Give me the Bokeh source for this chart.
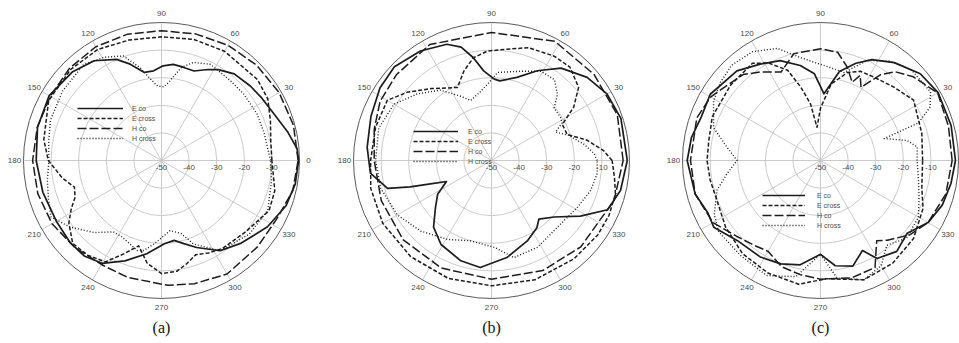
import numpy as np
from bokeh.plotting import figure
from bokeh.layouts import row
from bokeh.models import Range1d, Legend, LegendItem
from bokeh.embed import file_html
from bokeh.resources import INLINE
from bokeh.core.properties import value

# ---------------------------------------------------------------------------
# Radiation patterns (angle in degrees, normalised gain in dB)
# ---------------------------------------------------------------------------

# (a)
a_eco_deg = [0, 5, 13, 23, 32, 40, 50, 58, 63, 70, 77, 83, 89, 95, 101, 108, 114, 124, 135, 150,
             165, 180, 195, 210, 222, 231, 240, 250, 261, 272, 279, 285, 292, 303, 314, 328, 340, 350, 360]
a_eco_db = [-0.3, -0.7, -3.2, -6, -7.2, -8, -9, -11.2, -13, -15.5, -15.3, -14.9, -15.7, -17.4, -17.5, -13.3, -9.9, -6.4, -4.5, -3,
            -3.5, -4.6, -5.5, -6, -5.5, -5.5, -7, -11.3, -15.8, -19.8, -20.7, -18.8, -16, -11, -8.4, -4.7, -2, -0.8, -0.3]

a_ecr_deg = [0, 10, 20, 30, 40, 60, 75, 90, 105, 120, 135, 152, 170, 180, 190, 197, 203, 208, 214, 223, 232, 241,
             248, 255, 262, 270, 278, 284, 290, 297, 305, 320, 335, 345, 355, 360]
a_ecr_db = [-10, -9.8, -8, -5.5, -4.5, -4.3, -4.6, -5.2, -4.8, -3.6, -3.4, -3.7, -6.7, -9, -13.5, -17, -16, -13, -9.5, -6, -6.5, -8,
            -13.5, -18, -12.5, -9, -9.5, -11.6, -13.7, -12.4, -11.2, -10, -7, -7.5, -9.5, -10]

a_hco_deg = [0, 15, 30, 45, 60, 75, 90, 105, 120, 135, 150, 165, 180, 195, 210, 225, 241, 254, 273, 285, 300, 318, 333, 347, 360]
a_hco_db = [-0.5, -0.5, -0.8, -1.2, -1.8, -2.5, -3.0, -2.6, -2.4, -2.8, -3.5, -3.4, -3.3, -3.6, -4.2, -5.5, -6.5, -5.9, -4.7, -3.8,
            -2.5, -3.2, -3.2, -1.2, -0.5]

a_hcr_deg = [0, 15, 26, 39, 49, 63, 72, 78, 84, 88, 93, 98, 103, 110, 119, 129, 145, 160, 170, 180, 190, 199, 207, 216,
             227, 236, 243, 255, 259, 265, 277, 285, 291, 303, 320, 335, 350, 360]
a_hcr_db = [-10.5, -11.5, -11.5, -11.7, -11.8, -10.9, -12.6, -15.6, -21, -23.3, -23, -20, -15.5, -9.7, -7.2, -5.2, -6.2, -7.2, -8.5,
            -9.2, -8, -6.7, -5, -9, -14.3, -18.8, -18.8, -16.2, -16.8, -19.7, -24.4, -22.6, -17.6, -11, -8.5, -7.5, -9.5, -10.5]

# (b)
b_eco_deg = [0, 18, 30, 41, 53, 63, 73, 84, 88, 95, 100, 105, 111, 123, 136, 147, 160, 174, 186, 195, 198, 201, 205,
             212, 220, 229, 239, 253, 264, 279, 294, 304, 309, 318, 328, 337, 347, 360]
b_eco_db = [-0.8, -0.7, -1.7, -4.1, -8.1, -13.5, -18.5, -21, -20.5, -17.4, -12.2, -7.5, -4.9, -2.7, -1.1, -1.8, -3.5, -4.7, -5.9,
            -11, -19, -26.3, -32, -27, -23.5, -18, -14.5, -12, -11, -14.4, -18.1, -20.6, -22.7, -19.4, -12, -4.3, -2, -0.8]

b_ecr_deg = [0, 5, 12, 19, 27, 33, 40, 50, 59, 72, 82, 92, 100, 107, 115, 130, 141, 150, 164, 180, 193, 210, 230, 250,
             270, 290, 310, 325, 335, 345, 352, 360]
b_ecr_db = [-6.3, -9.2, -14.6, -21, -21.2, -14.5, -8.8, -5.8, -5.9, -7, -9.3, -10.3, -12.2, -16, -20.8, -16, -10.7, -6.4, -6.3,
            -6.2, -5.1, -4.5, -4.5, -4.5, -4.6, -4, -3.5, -3, -3, -3.5, -5, -6.3]

b_hco_deg = [0, 20, 40, 62, 90, 118, 138, 152, 165, 180, 200, 222, 245, 270, 295, 316, 342, 360]
b_hco_db = [-2.3, -1.5, -1.5, -1.1, -3.6, -2.4, -3.6, -4.3, -6, -7.5, -7.5, -7, -7, -7, -6, -5, -3.3, -2.3]

b_hcr_deg = [0, 4, 10, 18, 24, 28, 32, 40, 45, 52, 61, 72, 86, 93, 100, 109, 116, 126, 138, 150, 164, 180, 194, 210,
             225, 241, 255, 272, 283, 298, 317, 331, 343, 353, 360]
b_hcr_db = [-11.7, -12.8, -16, -20.5, -24.6, -21, -20.5, -20.4, -16.2, -12.9, -13, -16, -18, -22.3, -25, -27, -24, -18.5, -13.9,
            -9.2, -7.5, -8, -8.6, -10.6, -13.8, -17.3, -19.9, -18.5, -13.9, -14.4, -16, -14.6, -12.5, -11.4, -11.7]

# (c)
c_eco_deg = [0, 15, 30, 41, 53, 63, 70, 78, 87, 94, 102, 112, 122, 133, 149, 160, 170, 180, 195, 205, 212, 224, 238,
             249, 259, 270, 278, 287, 295, 300, 310, 320, 330, 340, 350, 360]
c_eco_db = [-1.1, -1, -0.8, -2.1, -5.6, -9, -12.5, -17, -25.8, -18.5, -14.8, -11, -8.8, -5.6, -3.4, -4, -2.5, -1.7, -3, -5, -4.4,
            -8.2, -8.8, -9.9, -11.5, -16, -11.5, -10, -14, -9, -7, -9, -5, -3, -2, -1.1]

c_ecr_deg = [0, 15, 33, 45, 57, 66, 73, 82, 90, 96, 100, 105, 110, 118, 125, 140, 158, 170, 180, 190, 201, 215, 230,
             245, 260, 273, 290, 305, 320, 335, 345, 360]
c_ecr_db = [-13, -12, -9.8, -12.4, -14.1, -14.6, -16.7, -22, -31, -37.9, -29.2, -22.5, -15.2, -10, -7, -7.5, -7.7, -8.9, -8.9,
            -9.4, -9.8, -8, -6, -5, -4.5, -7.1, -4, -4.5, -6, -9, -12, -13]

c_hco_deg = [0, 15, 30, 42, 50, 55, 61, 65, 68, 74, 81, 90, 104, 114, 124, 132, 141, 150, 161, 180, 195, 210, 222,
             232, 240, 250, 260, 270, 285, 297, 305, 310, 320, 330, 345, 360]
c_hco_db = [-2.3, -2, -1, -4.7, -8, -12, -19.7, -16, -19.4, -14.8, -10.3, -9.5, -10.1, -14.9, -11.3, -8.1, -6.6, -4, -2.6, -2.9,
            -3, -5, -9, -11, -12, -9, -8, -7, -6, -6.5, -14.5, -12.3, -8, -5, -3, -2.3]

c_hcr_deg = [0, 8, 13, 19, 21, 26, 32, 45, 55, 65, 75, 85, 95, 101, 111, 122, 133, 142, 151, 163, 172, 180, 188, 196,
             207, 215, 230, 245, 258, 270, 278, 290, 300, 308, 318, 330, 340, 350, 360]
c_hcr_db = [-15, -14.6, -17.8, -25.6, -12, -5.8, -3, -3.5, -6, -10, -17, -16, -14, -12, -6.5, -3.5, -2.8, -4, -5.7, -9.5,
            -15.8, -19.8, -15.8, -11, -6.8, -5, -5, -4, -7, -16, -7, -4, -6, -11, -8, -9, -12, -14, -15]

series_names = ["E co", "E cross", "H co", "H cross"]
panel_tags = ["(a)", "(b)", "(c)"]
angle_ticks = list(range(0, 360, 30))
ring_levels = [-50, -40, -30, -20, -10]

# ---------------------------------------------------------------------------
# Drawing
# ---------------------------------------------------------------------------
H = 343
CY = 160.0          # pixel row of the polar origin
R_PX = 138.0        # pixel radius of the 0 dB circle
DB_MIN = -50.0      # value at the origin
PX = R_PX / (0 - DB_MIN)   # pixels per dB of radius
OUTER = 0 - DB_MIN

LINE_STYLES = [
    dict(line_dash="solid", line_width=1.7),
    dict(line_dash="4 2", line_width=1.5),
    dict(line_dash="9 3", line_width=1.5),
    dict(line_dash="1 2", line_width=1.4),
]
INK = "#1c1c1c"
GRID = "#c4c4c4"
LABEL = "#4a4a4a"


def to_xy(deg, db):
    r = np.clip(np.asarray(db, dtype=float) - DB_MIN, 0, None)
    t = np.radians(np.asarray(deg, dtype=float))
    return r * np.cos(t), r * np.sin(t)


def panel(cx, width, curves, legend_px, tag):
    p = figure(width=width, height=H,
               x_range=Range1d(-cx / PX, (width - cx) / PX),
               y_range=Range1d(-(H - CY) / PX, CY / PX),
               output_backend="svg", toolbar_location=None,
               x_axis_type=None, y_axis_type=None, min_border=0)
    p.outline_line_color = None
    p.background_fill_color = "white"
    p.border_fill_color = "white"

    # grid rings and spokes
    rings = [lv - DB_MIN for lv in ring_levels[1:]]
    p.circle(x=[0] * len(rings), y=[0] * len(rings), radius=rings,
             fill_color=None, line_color=GRID, line_width=0.9)
    t = np.radians(angle_ticks)
    p.segment(x0=np.zeros(len(t)), y0=np.zeros(len(t)),
              x1=OUTER * np.cos(t), y1=OUTER * np.sin(t),
              line_color=GRID, line_width=0.9)
    p.circle(x=[0], y=[0], radius=[OUTER], fill_color=None,
             line_color="#5a5a5a", line_width=1.0)

    # angle labels (only those that fall inside this panel's width)
    lr = 147.0 / PX
    lab_x, lab_y, lab_t = [], [], []
    for a in angle_ticks:
        x = lr * np.cos(np.radians(a))
        px_x = cx + x * PX
        half = 2.6 * len(str(a))
        if px_x - half >= 0 and px_x + half <= width:
            lab_x.append(x)
            lab_y.append(lr * np.sin(np.radians(a)))
            lab_t.append(str(a))
    p.text(x=lab_x, y=lab_y, text=lab_t,
           text_font=value("Liberation Sans"), text_font_size="8px",
           text_color=LABEL, text_align="center", text_baseline="middle")
    # radial labels
    p.text(x=[lv - DB_MIN for lv in ring_levels], y=[-7.0 / PX] * len(ring_levels),
           text=[str(lv) for lv in ring_levels],
           text_font=value("Liberation Sans"), text_font_size="8px",
           text_color=LABEL, text_align="center", text_baseline="middle")

    renderers = []
    for (deg, db), style in zip(curves, LINE_STYLES):
        x, y = to_xy(deg, db)
        renderers.append(p.line(x, y, line_color=INK, line_join="round", **style))

    lx, ltop, gw, standoff = legend_px
    legend = Legend(items=[LegendItem(label=n, renderers=[r]) for n, r in zip(series_names, renderers)],
                    location=(lx, H - ltop - 40), orientation="vertical",
                    glyph_width=gw, glyph_height=10, label_height=10, label_standoff=standoff,
                    spacing=0, padding=0, margin=0,
                    border_line_color=None, background_fill_alpha=0,
                    label_text_font="Liberation Sans", label_text_font_size="7px",
                    label_text_color=LABEL, label_text_baseline="middle")
    p.add_layout(legend)

    p.text(x=[0], y=[(CY - 327.0) / PX], text=[tag],
           text_font=value("Liberation Serif"), text_font_size="16px",
           text_color="#111111", text_align="center", text_baseline="middle")
    return p


pa = panel(161, 320, [(a_eco_deg, a_eco_db), (a_ecr_deg, a_ecr_db), (a_hco_deg, a_hco_db), (a_hcr_deg, a_hcr_db)],
           (77, 103, 46, 9), panel_tags[0])
pb = panel(171, 320, [(b_eco_deg, b_eco_db), (b_ecr_deg, b_ecr_db), (b_hco_deg, b_hco_db), (b_hcr_deg, b_hcr_db)],
           (93, 126, 45, 10), panel_tags[1])
pc = panel(180, 319, [(c_eco_deg, c_eco_db), (c_ecr_deg, c_ecr_db), (c_hco_deg, c_hco_db), (c_hcr_deg, c_hcr_db)],
           (122, 190, 43, 12), panel_tags[2])

layout = row(pa, pb, pc, spacing=0)
open("out.html", "w").write(file_html(layout, INLINE))
